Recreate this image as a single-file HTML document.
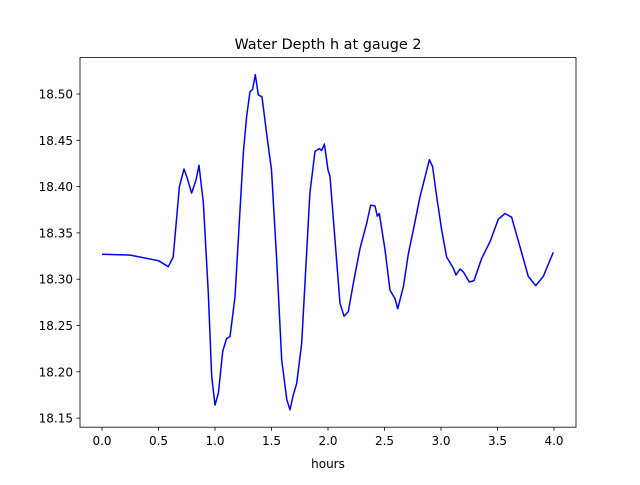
<!DOCTYPE html>
<html><head><meta charset="utf-8"><style>
body{margin:0;background:#fff}
text{font-family:"DejaVu Sans","Liberation Sans",sans-serif;fill:#000}
</style></head><body>
<svg id="chart" width="640" height="480" xmlns="http://www.w3.org/2000/svg">
<rect width="640" height="480" fill="#fff"/>
<text x="328" y="49" font-size="14.4" text-anchor="middle">Water Depth h at gauge 2</text>
<text x="328" y="468" font-size="12" text-anchor="middle">hours</text>
<g id="ticks"></g>
<polyline id="series" fill="none" stroke="#0000ff" stroke-width="1.5" stroke-linejoin="round"/>
<rect x="80" y="57.6" width="496" height="369.6" fill="none" stroke="#000" stroke-width="0.8"/>
</svg>
<script>
const times=[0,0.25,0.5,0.587,0.63,0.685,0.726,0.755,0.793,0.832,0.858,0.897,0.941,0.971,1.0,1.03,1.068,1.103,1.133,1.177,1.25,1.28,1.31,1.333,1.357,1.383,1.416,1.457,1.5,1.546,1.59,1.635,1.664,1.693,1.723,1.767,1.84,1.885,1.923,1.944,1.968,2.0,2.018,2.106,2.142,2.18,2.224,2.283,2.342,2.378,2.416,2.436,2.454,2.504,2.549,2.593,2.617,2.667,2.711,2.755,2.814,2.897,2.926,2.962,3.006,3.05,3.109,3.133,3.168,3.197,3.25,3.292,3.36,3.434,3.507,3.566,3.625,3.699,3.773,3.838,3.905,3.994];
const depths=[18.327,18.326,18.320,18.3135,18.324,18.40,18.419,18.409,18.393,18.407,18.423,18.382,18.285,18.195,18.164,18.177,18.222,18.236,18.238,18.281,18.436,18.4755,18.5025,18.505,18.521,18.499,18.497,18.4575,18.418,18.321,18.213,18.170,18.159,18.175,18.1875,18.231,18.393,18.438,18.441,18.439,18.446,18.418,18.411,18.274,18.260,18.265,18.2955,18.333,18.360,18.380,18.379,18.368,18.371,18.332,18.288,18.279,18.268,18.292,18.327,18.353,18.389,18.429,18.4215,18.389,18.353,18.324,18.312,18.3045,18.311,18.308,18.297,18.2985,18.3225,18.3405,18.3647,18.371,18.367,18.335,18.303,18.293,18.303,18.329];
const xTicks=["0.0","0.5","1.0","1.5","2.0","2.5","3.0","3.5","4.0"];
const yTicks=["18.15","18.20","18.25","18.30","18.35","18.40","18.45","18.50"];
const xs=t=>102+t*113;
const ys=h=>94+(18.50-h)*926;
const NS="http://www.w3.org/2000/svg";
const g=document.getElementById('ticks');
function mk(tag,attrs){const e=document.createElementNS(NS,tag);for(const k in attrs)e.setAttribute(k,attrs[k]);return e;}
xTicks.forEach(l=>{const x=xs(parseFloat(l));
 const t=mk('line',{x1:x,x2:x,y1:427.2,y2:430.7,stroke:'#000','stroke-width':0.8});
 
 
 g.appendChild(t);
 const tx=mk('text',{x:x,y:445,'font-size':12,'text-anchor':'middle'});tx.textContent=l;
 
 
 g.appendChild(tx);});
yTicks.forEach(l=>{const y=ys(parseFloat(l));
 const t=mk('line',{x1:76.5,x2:80,y1:y,y2:y,stroke:'#000','stroke-width':0.8});
 
 
 g.appendChild(t);
 const tx=mk('text',{x:73,y:y+4.5,'font-size':12,'text-anchor':'end'});tx.textContent=l;
 
 
 g.appendChild(tx);});
document.getElementById('series').setAttribute('points',times.map((t,i)=>xs(t).toFixed(1)+','+ys(depths[i]).toFixed(1)).join(' '));
</script>
</body></html>
